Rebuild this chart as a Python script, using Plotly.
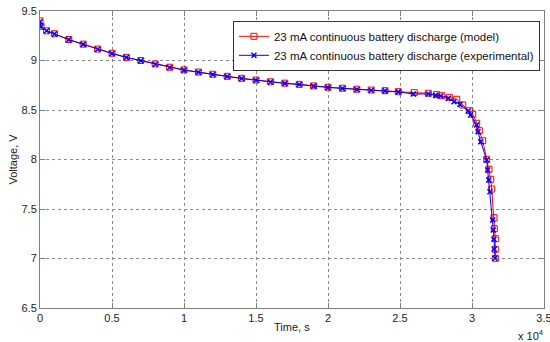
import plotly.graph_objects as go

# Time in seconds, voltage in V
model_t = [0, 70, 460, 1000, 2000, 3000, 4000, 5000, 6000, 7000, 8000, 9000, 10000,
           11000, 12000, 13000, 14000, 15000, 16000, 17000, 18000, 19000, 20000, 21000,
           22000, 23000, 23960, 24880, 25990, 26965, 27548, 27896, 28424, 28938, 29354,
           29813, 30049, 30326, 30507, 30743, 31021, 31180, 31298, 31368, 31528, 31549,
           31618, 31618, 31618]
model_v = [9.40, 9.345, 9.30, 9.27, 9.212, 9.165, 9.116, 9.073, 9.032, 9.0, 8.965, 8.932, 8.905,
           8.883, 8.861, 8.84, 8.82, 8.803, 8.785, 8.771, 8.759, 8.743, 8.73, 8.72,
           8.71, 8.702, 8.695, 8.685, 8.675, 8.669, 8.655, 8.644, 8.628, 8.608, 8.551,
           8.493, 8.457, 8.366, 8.291, 8.19, 8.002, 7.901, 7.80, 7.702, 7.412, 7.301,
           7.20, 7.093, 7.002]

exp_t = [0, 70, 460, 1000, 2000, 3000, 4000, 5000, 6000, 7000, 8000, 9000, 10000,
         11000, 12000, 13000, 14000, 15000, 16000, 17000, 18000, 19000, 20000, 21000,
         22000, 23000, 23960, 24880, 25924, 26965, 27479, 27826, 28354, 28750, 29167,
         29743, 29910, 30326, 30417, 30604, 31021, 31090, 31160, 31250, 31438, 31479,
         31528, 31549, 31597]
exp_v = [9.39, 9.34, 9.30, 9.268, 9.21, 9.163, 9.114, 9.071, 9.03, 8.998, 8.963, 8.93, 8.903,
         8.881, 8.859, 8.838, 8.818, 8.801, 8.783, 8.769, 8.757, 8.741, 8.728, 8.718,
         8.708, 8.70, 8.693, 8.683, 8.662, 8.662, 8.648, 8.641, 8.618, 8.584, 8.557,
         8.49, 8.449, 8.348, 8.281, 8.18, 7.995, 7.894, 7.793, 7.675, 7.389, 7.288,
         7.194, 7.093, 7.002]

x_tick_vals = [0, 5000, 10000, 15000, 20000, 25000, 30000, 35000]
x_tick_text = ["0", "0.5", "1", "1.5", "2", "2.5", "3", "3.5"]
y_tick_vals = [6.5, 7, 7.5, 8, 8.5, 9, 9.5]
y_tick_text = ["6.5", "7", "7.5", "8", "8.5", "9", "9.5"]

FONT = "Liberation Sans, Arial, sans-serif"
TXT = "#222222"

fig = go.Figure()
fig.add_trace(go.Scatter(
    x=model_t, y=model_v, mode="lines+markers",
    name="23 mA continuous battery discharge (model)",
    line=dict(color="#ff0000", width=1),
    marker=dict(symbol="square-open", size=6, color="#ff0000", line=dict(width=1)),
))
fig.add_trace(go.Scatter(
    x=exp_t, y=exp_v, mode="lines+markers",
    name="23 mA continuous battery discharge (experimental)",
    line=dict(color="#0000ff", width=1),
    marker=dict(symbol="x-thin", size=5, color="#0000ff", line=dict(width=1.5, color="#0000ff")),
))

axis_common = dict(
    showline=True, linecolor="#808080", linewidth=1, mirror="ticks",
    ticks="inside", ticklen=5, tickcolor="#808080",
    showgrid=True, gridcolor="#8a8a8a", griddash="dot", gridwidth=1,
    zeroline=False, automargin=False, ticklabeloverflow="allow",
    tickfont=dict(family=FONT, size=11, color=TXT),
)

fig.update_layout(
    width=550, height=342,
    margin=dict(l=40, r=6, t=11, b=34),
    paper_bgcolor="white", plot_bgcolor="white",
    font=dict(family=FONT, size=11, color=TXT),
    showlegend=True,
    legend=dict(
        x=0.992, y=0.967, xanchor="right", yanchor="top",
        bgcolor="white", bordercolor="#333333", borderwidth=1,
        font=dict(family=FONT, size=11.5, color="#111111"),
        tracegroupgap=0, itemwidth=30,
    ),
    xaxis=dict(range=[0, 35000], tickvals=x_tick_vals, ticktext=x_tick_text, **axis_common),
    yaxis=dict(range=[6.5, 9.5], tickvals=y_tick_vals, ticktext=y_tick_text, **axis_common),
)

fig.add_annotation(
    x=0.5, y=0, xref="paper", yref="paper", xanchor="center", yanchor="middle",
    yshift=-19, text="Time, s", showarrow=False, font=dict(family=FONT, size=11, color=TXT),
)
fig.add_annotation(
    x=0, y=0.5, xref="paper", yref="paper", xanchor="center", yanchor="middle",
    xshift=-28, text="Voltage, V", textangle=-90, showarrow=False,
    font=dict(family=FONT, size=11, color=TXT),
)
fig.add_annotation(
    x=1.0, y=0, xref="paper", yref="paper", xanchor="right", yanchor="top",
    yshift=-18, xshift=2, text="x 10<sup>4</sup>", showarrow=False,
    font=dict(family=FONT, size=11, color=TXT),
)

# Remove the browser's default 8px body margin so the figure fills the window exactly.
fig.write_html("out.html", config={"displayModeBar": False},
               post_script="document.body.style.margin='0';")
